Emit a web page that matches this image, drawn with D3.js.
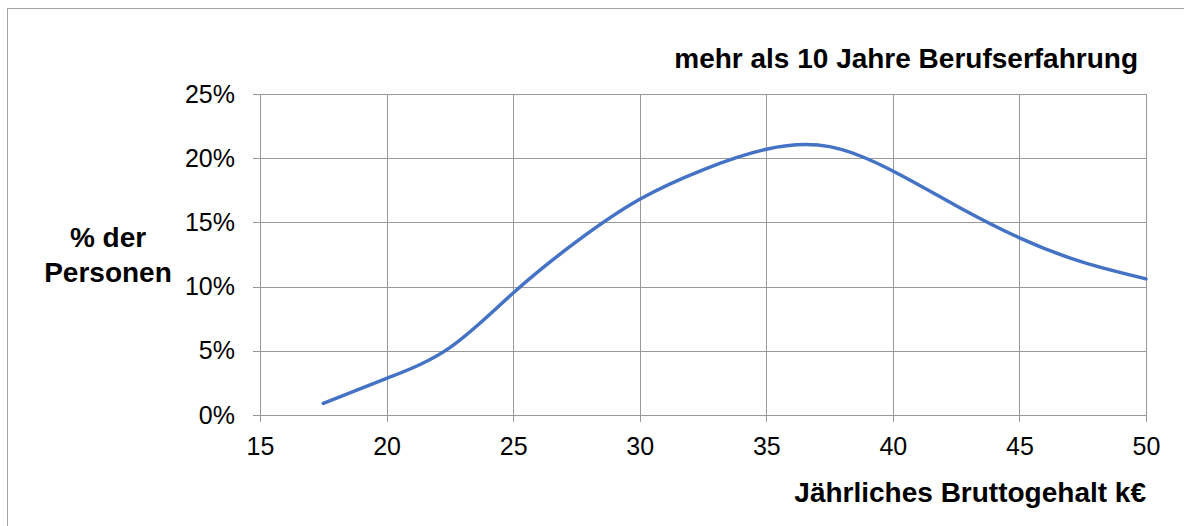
<!DOCTYPE html>
<html>
<head>
<meta charset="utf-8">
<script src="https://cdn.jsdelivr.net/npm/d3@7"></script>
<style>
  body { margin: 0; background: #fff; }
  svg { display: block; font-family: "Liberation Sans", Arial, sans-serif; }
</style>
</head>
<body>
<div id="chart-area"></div>
<script>
// salary (k€) vs share of people, >10 years experience
const salary = [17.5, 20, 22.5, 25, 27.5, 30, 32.5, 35, 37.5, 40, 42.5, 45, 47.5, 50]
const share = [0.009, 0.0285, 0.0525, 0.095, 0.135, 0.168, 0.191, 0.207, 0.209, 0.190, 0.163, 0.138, 0.119, 0.106]
const xTicks = [15, 20, 25, 30, 35, 40, 45, 50]
const yTicks = [0, 0.05, 0.10, 0.15, 0.20, 0.25]

const W = 1184
const H = 526
const MARGIN = {LEFT: 260, RIGHT: 38, TOP: 94, BOTTOM: 111}

const svg = d3.select("#chart-area").append("svg")
  .attr("width", W)
  .attr("height", H)

// outer chart frame
svg.append("rect")
  .attr("x", 7.5)
  .attr("y", 8.5)
  .attr("width", W)
  .attr("height", H)
  .attr("fill", "none")
  .attr("stroke", "#a6a6a6")

const x = d3.scaleLinear()
  .domain([15, 50])
  .range([MARGIN.LEFT, W - MARGIN.RIGHT])

const y = d3.scaleLinear()
  .domain([0, 0.25])
  .range([H - MARGIN.BOTTOM, MARGIN.TOP])

// grid
const grid = svg.append("g").attr("stroke", "#999").attr("stroke-width", 1)
grid.selectAll(".gx").data(xTicks).enter().append("line")
  .attr("x1", d => Math.round(x(d)) + 0.5)
  .attr("x2", d => Math.round(x(d)) + 0.5)
  .attr("y1", y(0.25))
  .attr("y2", y(0) + 7)
grid.selectAll(".gy").data(yTicks).enter().append("line")
  .attr("x1", x(15) - 7)
  .attr("x2", x(50))
  .attr("y1", d => Math.round(y(d)) + 0.5)
  .attr("y2", d => Math.round(y(d)) + 0.5)

// axes labels (ticks drawn as grid above)
const xAxis = svg.append("g")
  .attr("transform", `translate(0, ${y(0)})`)
  .call(d3.axisBottom(x).tickValues(xTicks).tickSize(0).tickPadding(22))
xAxis.select(".domain").remove()
xAxis.selectAll("text")
  .attr("font-size", "25px")
  .attr("font-family", "Liberation Sans, Arial, sans-serif")
  .attr("fill", "#000")

const yAxis = svg.append("g")
  .attr("transform", `translate(${x(15)}, 0)`)
  .call(d3.axisLeft(y).tickValues(yTicks).tickSize(0).tickPadding(25)
    .tickFormat(d3.format(".0%")))
yAxis.select(".domain").remove()
yAxis.selectAll("text")
  .attr("font-size", "25px")
  .attr("font-family", "Liberation Sans, Arial, sans-serif")
  .attr("fill", "#000")

// curve
const line = d3.line()
  .x((d, i) => x(salary[i]))
  .y(d => y(d))
  .curve(d3.curveNatural)

svg.append("path")
  .datum(share)
  .attr("d", line)
  .attr("fill", "none")
  .attr("stroke", "#4472c4")
  .attr("stroke-width", 3.5)
  .attr("stroke-linecap", "round")

// titles
svg.append("text")
  .attr("x", 1138)
  .attr("y", 68)
  .attr("text-anchor", "end")
  .attr("font-size", "28px")
  .attr("font-weight", "bold")
  .text("mehr als 10 Jahre Berufserfahrung")

svg.append("text")
  .attr("x", 1146)
  .attr("y", 502)
  .attr("text-anchor", "end")
  .attr("font-size", "28px")
  .attr("font-weight", "bold")
  .text("Jährliches Bruttogehalt k€")

const yLabel = svg.append("text")
  .attr("text-anchor", "middle")
  .attr("font-size", "28px")
  .attr("font-weight", "bold")
yLabel.append("tspan").attr("x", 108).attr("y", 247).text("% der")
yLabel.append("tspan").attr("x", 108).attr("y", 282).text("Personen")
</script>
</body>
</html>
